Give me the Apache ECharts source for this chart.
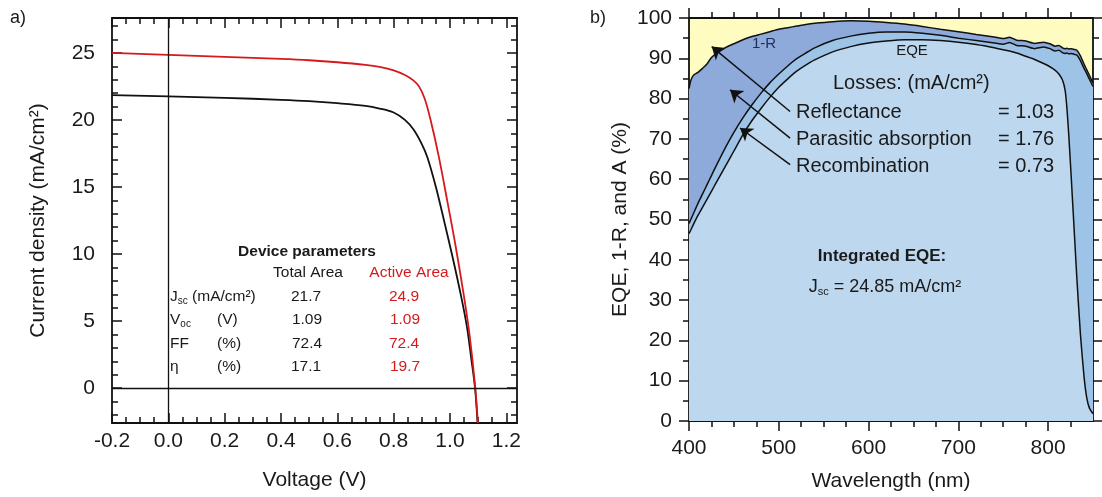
<!DOCTYPE html>
<html><head><meta charset="utf-8">
<script src="https://cdn.jsdelivr.net/npm/echarts@6/dist/echarts.min.js"></script>
<style>html,body{margin:0;padding:0;background:#fff}#c{width:1102px;height:497px}</style>
</head><body><div id="c"></div><script>
// ---------- Panel a) J-V data ----------
const voltageTotal = [-0.2, 0, 0.2, 0.4, 0.5, 0.6, 0.7, 0.75, 0.8, 0.84, 0.87, 0.9, 0.92, 0.95, 0.98, 1.01, 1.04, 1.06, 1.075, 1.089, 1.098];
const currentTotal = [21.85, 21.75, 21.65, 21.5, 21.4, 21.25, 21.05, 20.85, 20.55, 20.0, 19.3, 18.2, 17.2, 15.0, 12.4, 9.7, 6.8, 4.6, 2.3, 0.0, -2.6];
const voltageActive = [-0.2, 0, 0.2, 0.4, 0.5, 0.6, 0.7, 0.75, 0.8, 0.84, 0.87, 0.89, 0.91, 0.93, 0.96, 0.99, 1.02, 1.05, 1.07, 1.09, 1.099];
const currentActive = [25.0, 24.85, 24.7, 24.55, 24.45, 24.3, 24.1, 23.95, 23.7, 23.35, 22.95, 22.5, 21.6, 20.1, 17.3, 14.0, 10.6, 6.8, 3.9, 0.0, -2.6];
const voltageTicks = [-0.2, 0, 0.2, 0.4, 0.6, 0.8, 1.0, 1.2];
const currentTicks = [0, 5, 10, 15, 20, 25];

// ---------- Panel b) EQE data ----------
const wavelength = [400,402,405,410,415,420,425,430,440,450,460,470,480,490,500,510,520,530,540,560,580,600,620,640,660,680,700,720,740,750,757,765,775,785,795,802,808,812,816,819,821,823,826,829,832,836,840,843,846,850];
const oneMinusR = [82.5,84.5,85.8,86.5,87.5,88.6,90.2,91.1,92.6,93.6,94.6,95.4,96.0,96.6,97.2,97.6,98.0,98.4,98.7,99.1,99.3,99.2,98.9,98.5,97.9,97.2,96.6,95.9,95.3,94.9,95.2,94.5,94.3,93.7,94.0,93.6,93.0,93.2,92.6,92.4,92.5,92.3,92.4,92.2,92.0,90.6,88.6,87.2,85.8,83.8];
const absorbed = [49.0,50.0,51.5,54.0,56.3,58.6,60.9,63.2,67.6,71.6,75.2,78.4,81.3,83.9,86.1,88.1,89.9,91.3,92.6,94.4,95.5,96.2,96.5,96.5,96.2,95.7,95.0,94.4,93.8,93.5,93.9,93.2,93.0,92.4,92.8,92.4,91.8,92.0,91.4,91.2,91.3,91.1,91.2,91.0,90.8,89.4,87.5,86.2,84.8,83.0];
const eqe = [46.5,47.4,48.8,51.0,53.0,55.0,57.0,59.0,63.0,67.0,71.0,74.5,77.5,80.3,82.8,84.9,86.8,88.3,89.6,91.6,92.9,93.8,94.3,94.6,94.6,94.4,94.0,93.4,92.6,92.1,91.8,91.3,90.5,89.7,88.7,87.9,87.0,86.1,84.6,82.0,77.5,71.0,59.5,47.5,35.5,21.5,11.0,5.8,3.2,1.8];
const wavelengthTicks = [400, 500, 600, 700, 800];
const percentTicks = [0, 10, 20, 30, 40, 50, 60, 70, 80, 90, 100];

// arrows: [tail, head] in data coordinates (wavelength, %)
const arrowTails = [[512.6, 76.8], [512.6, 70.2], [512.6, 63.6]];
const arrowHeads = [[425.3, 92.9], [445.7, 82.2], [456.9, 72.7]];

const F = '"Liberation Sans", Arial, Helvetica, sans-serif';
const TXT = '#1a1a1a';
const RED = '#d7191c';

function minorBetween(major, step, lo, hi) {
  const out = [];
  for (let v = lo; v <= hi + 1e-9; v += step) {
    const r = Math.round(v * 1000) / 1000;
    if (!major.some(m => Math.abs(m - r) < 1e-6)) out.push(r);
  }
  return out;
}

function axis(grid, pos, min, max, ticks, len, inside, lineShow, label, name) {
  const a = {
    type: 'value', gridIndex: grid, position: pos, min: min, max: max,
    axisLine: { show: lineShow, onZero: false, lineStyle: { color: '#111', width: 1.8 } },
    axisTick: { show: true, inside: inside, length: len, customValues: ticks, lineStyle: { color: '#111', width: 1.5 } },
    axisLabel: { show: false },
    splitLine: { show: false },
    minorTick: { show: false }
  };
  if (label) a.axisLabel = Object.assign({ show: true, customValues: ticks, fontSize: 21, color: TXT, fontFamily: F }, label);
  if (name) {
    a.name = name.text; a.nameLocation = 'middle'; a.nameGap = name.gap;
    a.nameTextStyle = { fontSize: 21, color: TXT, fontFamily: F };
  }
  return a;
}

const vMinor = minorBetween(voltageTicks, 0.05, -0.15, 1.2);
const jMinor = minorBetween(currentTicks, 1, -2, 27);
const wMinor = minorBetween(wavelengthTicks, 25, 425, 825);
const pMinor = minorBetween(percentTicks, 5, 5, 95);

const VMIN = -0.2, VMAX = 1.238, JMIN = -2.6, JMAX = 27.6;
const WMIN = 400, WMAX = 850, PMIN = 0, PMAX = 100;

const xAxes = [
  axis(0, 'bottom', VMIN, VMAX, voltageTicks, 10, true, true, { margin: 8, formatter: v => v.toFixed(1) }, { text: 'Voltage (V)', gap: 47 }),
  axis(0, 'bottom', VMIN, VMAX, vMinor, 6, true, false),
  axis(0, 'top', VMIN, VMAX, voltageTicks, 10, true, true),
  axis(0, 'top', VMIN, VMAX, vMinor, 6, true, false),
  axis(1, 'bottom', WMIN, WMAX, wavelengthTicks, 10, false, true, { margin: 17, formatter: v => String(v) }, { text: 'Wavelength (nm)', gap: 50 }),
  axis(1, 'bottom', WMIN, WMAX, wMinor, 6, false, false),
  axis(1, 'top', WMIN, WMAX, wavelengthTicks, 10, false, true),
  axis(1, 'top', WMIN, WMAX, wMinor, 6, false, false)
];
const yAxes = [
  axis(0, 'left', JMIN, JMAX, currentTicks, 10, true, true, { margin: 17, formatter: v => String(v) }, { text: 'Current density (mA/cm²)', gap: 63 }),
  axis(0, 'left', JMIN, JMAX, jMinor, 6, true, false),
  axis(0, 'right', JMIN, JMAX, currentTicks, 10, true, true),
  axis(0, 'right', JMIN, JMAX, jMinor, 6, true, false),
  axis(1, 'left', PMIN, PMAX, percentTicks, 10, false, true, { margin: 17, formatter: v => String(v) }, { text: 'EQE, 1-R, and A (%)', gap: 58 }),
  axis(1, 'left', PMIN, PMAX, pMinor, 6, false, false),
  axis(1, 'right', PMIN, PMAX, percentTicks, 10, false, true),
  axis(1, 'right', PMIN, PMAX, pMinor, 6, false, false)
];

const zip = (xs, ys) => xs.map((x, i) => [x, ys[i]]);

function T(x, y, text, size, extra) {
  return Object.assign({
    type: 'text', x: x, y: y, silent: true, z: 100,
    style: Object.assign({ text: text, fill: TXT, font: size + 'px ' + F, align: 'left', verticalAlign: 'middle' }, (extra && extra.style) || {})
  }, extra && extra.el || {});
}
function subRich(size, color) {
  return {
    n: { fontSize: size, fontFamily: F, color: color || TXT },
    s: { fontSize: Math.round(size * 0.62), fontFamily: F, color: color || TXT, padding: [Math.round(size * 0.55), 0, 0, 0] }
  };
}

const graphics = [
  T(10, 18, 'a)', 18),
  T(590, 18, 'b)', 18),
  // table
  T(307, 252, 'Device parameters', 15.5, { style: { align: 'center', font: 'bold 15.5px ' + F } }),
  T(308, 273, 'Total Area', 15.5, { style: { align: 'center' } }),
  T(409, 273, 'Active Area', 15.5, { style: { align: 'center', fill: RED } }),
  T(170, 297, '', 15.5, { style: { text: '{n|J}{s|sc}{n| (mA/cm²)}', rich: subRich(15.5) } }),
  T(170, 320, '', 15.5, { style: { text: '{n|V}{s|oc}', rich: subRich(15.5) } }),
  T(217, 320, '(V)', 15.5),
  T(170, 344, 'FF', 15.5),
  T(217, 344, '(%)', 15.5),
  T(170, 367, 'η', 15.5),
  T(217, 367, '(%)', 15.5),
  T(306, 297, '21.7', 15.5, { style: { align: 'center' } }),
  T(307, 320, '1.09', 15.5, { style: { align: 'center' } }),
  T(307, 344, '72.4', 15.5, { style: { align: 'center' } }),
  T(306, 367, '17.1', 15.5, { style: { align: 'center' } }),
  T(404, 297, '24.9', 15.5, { style: { align: 'center', fill: RED } }),
  T(405, 320, '1.09', 15.5, { style: { align: 'center', fill: RED } }),
  T(404, 344, '72.4', 15.5, { style: { align: 'center', fill: RED } }),
  T(405, 367, '19.7', 15.5, { style: { align: 'center', fill: RED } }),
  // right panel
  T(764, 44, '1-R', 15, { style: { align: 'center', fill: '#1f2d5a' } }),
  T(912, 51, 'EQE', 15, { style: { align: 'center' } }),
  T(833, 83, 'Losses: (mA/cm²)', 20),
  T(796, 112, 'Reflectance', 20),
  T(796, 139, 'Parasitic absorption', 20),
  T(796, 166, 'Recombination', 20),
  T(998, 112, '= 1.03', 20),
  T(998, 139, '= 1.76', 20),
  T(998, 166, '= 0.73', 20),
  T(882, 256, 'Integrated EQE:', 17, { style: { align: 'center', font: 'bold 17px ' + F } }),
  T(885, 287, '', 18, { style: { align: 'center', text: '{n|J}{s|sc}{n| = 24.85 mA/cm²}', rich: subRich(18) } })
];

const areaSeries = (name, ys, color, z) => ({
  name: name, type: 'line', xAxisIndex: 4, yAxisIndex: 4, data: zip(wavelength, ys),
  symbol: 'none', smooth: 0.2, z: z,
  lineStyle: { color: '#111', width: 1.5 },
  areaStyle: { color: color, opacity: 1 }
});

const eqeSeries = areaSeries('EQE', eqe, '#bdd7ee', 4);
eqeSeries.markLine = {
  silent: true, symbol: ['none', 'arrow'], symbolSize: 12,
  lineStyle: { color: '#111', width: 1.5, type: 'solid' },
  label: { show: false },
  data: arrowTails.map((t, i) => [{ coord: t }, { coord: arrowHeads[i] }])
};

const option = {
  animation: false,
  backgroundColor: '#ffffff',
  textStyle: { fontFamily: F },
  grid: [
    { left: 112, right: 585, top: 18, bottom: 74, containLabel: false },
    { left: 689, right: 9, top: 18, bottom: 75, containLabel: false, show: true, backgroundColor: '#fffcc2', borderWidth: 0 }
  ],
  xAxis: xAxes,
  yAxis: yAxes,
  series: [
    {
      name: 'Total Area', type: 'line', xAxisIndex: 0, yAxisIndex: 0, data: zip(voltageTotal, currentTotal),
      symbol: 'none', smooth: 0.35, lineStyle: { color: '#111', width: 1.8 }, z: 3,
      markLine: {
        silent: true, symbol: ['none', 'none'], label: { show: false },
        lineStyle: { color: '#111', width: 1.3, type: 'solid' },
        data: [{ xAxis: 0 }, { yAxis: 0 }]
      }
    },
    {
      name: 'Active Area', type: 'line', xAxisIndex: 0, yAxisIndex: 0, data: zip(voltageActive, currentActive),
      symbol: 'none', smooth: 0.35, lineStyle: { color: RED, width: 1.8 }, z: 4
    },
    areaSeries('1-R', oneMinusR, '#8eaadb', 2),
    areaSeries('A', absorbed, '#9dc3e6', 3),
    eqeSeries
  ],
  graphic: graphics
};

const chart = echarts.init(document.getElementById('c'), null, { renderer: 'canvas' });
chart.setOption(option);
</script></body></html>
